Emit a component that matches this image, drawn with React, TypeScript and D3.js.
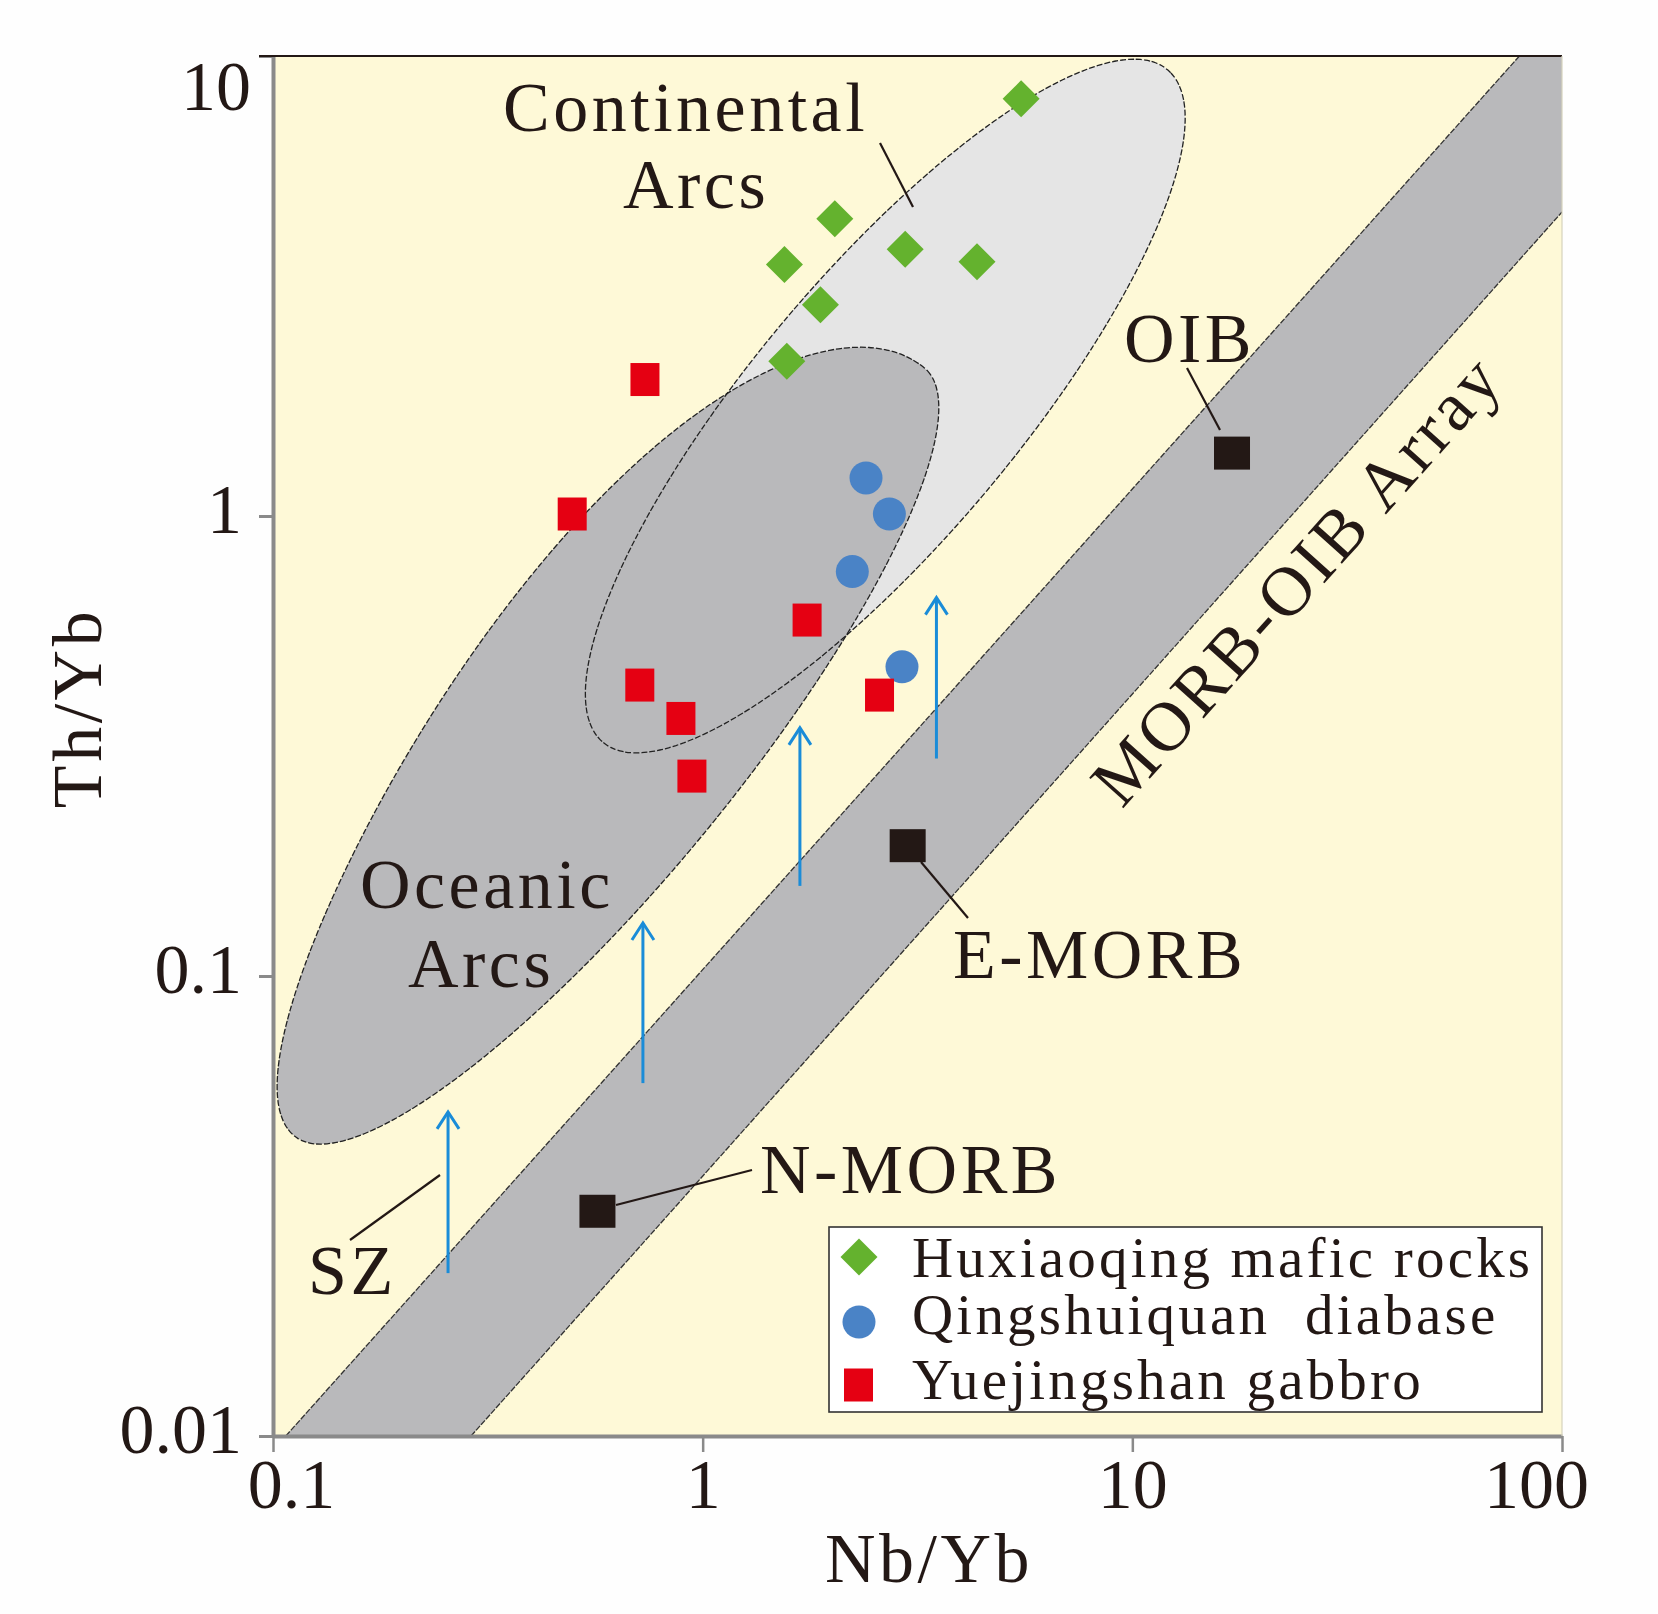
import React, { useEffect, useRef } from 'react';
import * as d3 from 'd3';

// sample data (Nb/Yb, Th/Yb)
const huxiaoqing: [number, number][] = [
  [5.51, 8.07], [2.03, 4.43], [2.96, 3.8], [4.35, 3.57], [1.55, 3.52], [1.88, 2.88], [1.57, 2.17],
];
const qingshuiquan: [number, number][] = [
  [2.4, 1.21], [2.72, 1.01], [2.23, 0.757], [2.91, 0.47],
];
const yuejingshan: [number, number][] = [
  [0.734, 1.98], [0.497, 1.01], [1.75, 0.594], [0.714, 0.429], [0.89, 0.363], [0.944, 0.272], [2.58, 0.408],
];
const refNames = ['OIB', 'E-MORB', 'N-MORB'];
const refValues: [number, number][] = [[17.06, 1.37], [3.0, 0.192], [0.569, 0.0308]];

// MORB-OIB array boundaries (two parallel lines, data ends)
const arrayUpper: [number, number][] = [[0.1071, 0.01], [79.6, 10]];
const arrayLower: [number, number][] = [[0.289, 0.01], [100, 4.58]];

// arc fields in log10 space: centre, major half-axis, lower-right and upper-left half-widths,
// k tapers the upper-left side towards the lower end
const oceanicField = { c: [-0.217, -0.513], a: [0.733, 0.835], bR: [0.2245, -0.172], bL: [0.3044, -0.2332], k: 0.2 };
const continentalField = { c: [0.425, 0.239], a: [0.657, 0.731], bR: [0.2357, -0.1848], bL: [0.2357, -0.1848], k: 0 };

// SZ enrichment arrows: Nb/Yb, Th/Yb start, Th/Yb end
const arrowX = [0.2555, 0.726, 1.684, 3.5];
const arrowFrom = [0.0226, 0.0585, 0.157, 0.297];
const arrowTo = [0.0509, 0.131, 0.348, 0.668];

const xTicks = [0.1, 1, 10, 100];
const xTickLabels = ['0.1', '1', '10', '100'];
const yTicks = [0.01, 0.1, 1, 10];
const yTickLabels = ['0.01', '0.1', '1', '10'];

const legendNames = ['Huxiaoqing mafic rocks', 'Qingshuiquan  diabase', 'Yuejingshan gabbro'];

const SERIF = '"Liberation Serif", "Times New Roman", serif';
const INK = '#231815';

type Field = { c: number[]; a: number[]; bR: number[]; bL: number[]; k: number };

export default function App() {
  const ref = useRef<SVGSVGElement | null>(null);

  useEffect(() => {
    const svg = d3.select(ref.current);
    svg.selectAll('*').remove();

    const W = 1658;
    const H = 1614;
    const L = 273, R = 1562, T = 56, B = 1436;

    const x = d3.scaleLog().domain([0.1, 100]).range([L, R]);
    const y = d3.scaleLog().domain([0.01, 10]).range([B, T]);

    svg.append('rect').attr('width', W).attr('height', H).attr('fill', '#fefefe');

    svg.append('defs').append('clipPath').attr('id', 'plotclip')
      .append('rect').attr('x', L).attr('y', T).attr('width', R - L).attr('height', B - T);

    svg.append('rect').attr('x', L).attr('y', T).attr('width', R - L).attr('height', B - T)
      .attr('fill', '#fef9d7');

    const g = svg.append('g').attr('clip-path', 'url(#plotclip)');

    // MORB-OIB array band
    const band = [arrayUpper[0], arrayUpper[1], [100, 10], arrayLower[1], arrayLower[0]];
    g.append('path')
      .attr('d', d3.line<number[]>().x((d) => x(d[0])).y((d) => y(d[1]))(band as any) + 'Z')
      .attr('fill', '#b9b9bb');
    [arrayUpper, arrayLower].forEach((ln) => {
      g.append('line')
        .attr('x1', x(ln[0][0])).attr('y1', y(ln[0][1]))
        .attr('x2', x(ln[1][0])).attr('y2', y(ln[1][1]))
        .attr('stroke', '#333').attr('stroke-width', 1.3).attr('stroke-dasharray', '6 1.5');
    });

    function field(f: Field) {
      const pts = d3.range(0, 180).map((i) => {
        const t = (i / 180) * Math.PI * 2;
        const c = Math.cos(t);
        const s = Math.sin(t);
        const bv = s >= 0 ? f.bR : f.bL.map((v) => v * (1 + f.k * c));
        return [
          Math.pow(10, f.c[0] + c * f.a[0] + s * bv[0]),
          Math.pow(10, f.c[1] + c * f.a[1] + s * bv[1]),
        ];
      });
      return d3.line<number[]>().x((d) => x(d[0])).y((d) => y(d[1])).curve(d3.curveCardinalClosed.tension(0.5))(pts);
    }

    g.append('path').attr('d', field(continentalField)).attr('fill', '#e5e5e5');
    g.append('path').attr('d', field(oceanicField)).attr('fill', '#b9b9bb');
    [continentalField, oceanicField].forEach((f) => {
      g.append('path').attr('d', field(f)).attr('fill', 'none')
        .attr('stroke', '#222').attr('stroke-width', 1.3).attr('stroke-dasharray', '6 2');
    });

    // arrows
    arrowX.forEach((ax, i) => {
      const px = x(ax);
      const y0 = y(arrowFrom[i]);
      const y1 = y(arrowTo[i]);
      g.append('line').attr('x1', px).attr('x2', px).attr('y1', y0).attr('y2', y1 + 1)
        .attr('stroke', '#1a8cd8').attr('stroke-width', 3);
      g.append('path')
        .attr('d', `M${px - 11},${y1 + 18} L${px},${y1 + 1} L${px + 11},${y1 + 18}`)
        .attr('fill', 'none').attr('stroke', '#1a8cd8').attr('stroke-width', 3);
    });

    // leader lines
    const leaders = [
      [880, 143, 913, 207],
      [1187, 368, 1220, 430],
      [921, 862, 968, 918],
      [616, 1205, 752, 1170],
      [350, 1240, 440, 1175],
    ];
    leaders.forEach((l) => {
      g.append('line').attr('x1', l[0]).attr('y1', l[1]).attr('x2', l[2]).attr('y2', l[3])
        .attr('stroke', INK).attr('stroke-width', 2.2);
    });

    // field labels
    const labels: [string, number, number][] = [
      ['Continental', 503, 131],
      ['Arcs', 623, 208],
      ['OIB', 1124, 362],
      ['E-MORB', 953, 978],
      ['N-MORB', 760, 1193],
      ['Oceanic', 360, 908],
      ['Arcs', 408, 987],
      ['SZ', 308, 1294],
    ];
    labels.forEach(([t, lx, ly]) => {
      svg.append('text').attr('x', lx).attr('y', ly).text(t)
        .attr('font-family', SERIF).attr('font-size', 70).attr('letter-spacing', 3.5)
        .attr('fill', INK);
    });
    svg.append('text').text('MORB-OIB Array')
      .attr('transform', 'translate(1314,595) rotate(-48.2)')
      .attr('text-anchor', 'middle')
      .attr('font-family', SERIF).attr('font-size', 70).attr('letter-spacing', 3.5)
      .attr('fill', INK);

    // reference compositions
    refValues.forEach((d) => {
      svg.append('rect')
        .attr('x', x(d[0]) - 18).attr('y', y(d[1]) - 16.5)
        .attr('width', 36).attr('height', 33).attr('fill', INK);
    });

    // samples
    const diamond = (cx: number, cy: number) => `M${cx},${cy - 18.5} L${cx + 18.5},${cy} L${cx},${cy + 18.5} L${cx - 18.5},${cy} Z`;
    huxiaoqing.forEach((d) => {
      svg.append('path').attr('d', diamond(x(d[0]), y(d[1]))).attr('fill', '#64b22e');
    });
    qingshuiquan.forEach((d) => {
      svg.append('circle').attr('cx', x(d[0])).attr('cy', y(d[1])).attr('r', 16.5).attr('fill', '#4a83c6');
    });
    yuejingshan.forEach((d) => {
      svg.append('rect').attr('x', x(d[0]) - 14.5).attr('y', y(d[1]) - 16.5)
        .attr('width', 29).attr('height', 33).attr('fill', '#e50012');
    });

    // legend
    const lg = svg.append('g');
    lg.append('rect').attr('x', 829).attr('y', 1227).attr('width', 713).attr('height', 185)
      .attr('fill', '#ffffff').attr('stroke', '#333').attr('stroke-width', 1.6);
    const rowY = [1257, 1322, 1385];
    const baseY = [1277, 1334, 1399];
    lg.append('path').attr('d', diamond(859, rowY[0])).attr('fill', '#64b22e');
    lg.append('circle').attr('cx', 859).attr('cy', rowY[1]).attr('r', 16.5).attr('fill', '#4a83c6');
    lg.append('rect').attr('x', 844).attr('y', rowY[2] - 16.5).attr('width', 29).attr('height', 33).attr('fill', '#e50012');
    legendNames.forEach((n, i) => {
      lg.append('text').attr('x', 912).attr('y', baseY[i]).text(n)
        .attr('font-family', SERIF).attr('font-size', 57).attr('letter-spacing', 3.2)
        .attr('fill', INK).style('white-space', 'pre');
    });

    // axes
    const axisGray = '#8a8a8a';
    const xAxis = svg.append('g').attr('transform', `translate(0,${B})`)
      .call(d3.axisBottom(x).tickValues(xTicks).tickSize(16).tickSizeOuter(0)
        .tickFormat((_, i) => xTickLabels[i]));
    xAxis.select('.domain').attr('stroke', axisGray).attr('stroke-width', 4);
    xAxis.selectAll('.tick line').attr('stroke', axisGray).attr('stroke-width', 2.5);
    xAxis.selectAll('.tick text')
      .attr('font-family', SERIF).attr('font-size', 70).attr('fill', INK)
      .attr('y', 72).attr('dy', 0)
      .attr('dx', (_, i) => (i === 0 ? 18 : i === xTicks.length - 1 ? -26 : 0));

    const yAxis = svg.append('g').attr('transform', `translate(${L},0)`)
      .call(d3.axisLeft(y).tickValues(yTicks).tickSize(14).tickSizeOuter(0)
        .tickFormat((_, i) => yTickLabels[i]));
    yAxis.select('.domain').attr('stroke', axisGray).attr('stroke-width', 4);
    yAxis.selectAll('.tick line').attr('stroke', axisGray).attr('stroke-width', 3);
    yAxis.selectAll('.tick text')
      .attr('font-family', SERIF).attr('font-size', 70).attr('fill', INK)
      .attr('x', (_, i) => (i === yTicks.length - 1 ? -22 : -31)).attr('dy', 0)
      .attr('y', (_, i) => (i === yTicks.length - 1 ? 53 : 16));

    // top and right frame
    svg.append('line').attr('x1', L - 14).attr('x2', R).attr('y1', T).attr('y2', T)
      .attr('stroke', INK).attr('stroke-width', 2);
    svg.append('line').attr('x1', R).attr('x2', R).attr('y1', T).attr('y2', B)
      .attr('stroke', '#d6d2bc').attr('stroke-width', 1.2);

    // axis titles
    svg.append('text').attr('x', 825).attr('y', 1582).text('Nb/Yb')
      .attr('font-family', SERIF).attr('font-size', 70).attr('letter-spacing', 3.5).attr('fill', INK);
    svg.append('text').text('Th/Yb')
      .attr('transform', 'translate(101,708) rotate(-90)')
      .attr('text-anchor', 'middle')
      .attr('font-family', SERIF).attr('font-size', 70).attr('letter-spacing', 3.5).attr('fill', INK);
  }, []);

  return (
    <div style={{ position: 'absolute', left: 0, top: 0 }}>
      <svg ref={ref} width={1658} height={1614} style={{ display: 'block' }} />
    </div>
  );
}
